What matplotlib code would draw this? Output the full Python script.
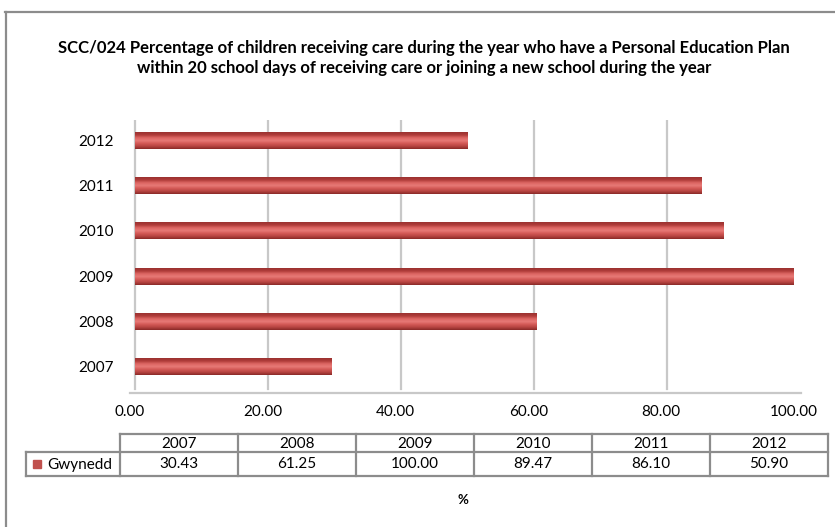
import matplotlib
matplotlib.use("Agg")
import matplotlib.pyplot as plt
import numpy as np
from matplotlib.colors import LinearSegmentedColormap
from matplotlib.lines import Line2D
from matplotlib.patches import Rectangle

# ---- data ----
years = ["2007", "2008", "2009", "2010", "2011", "2012"]
gwynedd = [30.43, 61.25, 100.00, 89.47, 86.10, 50.90]
series_name = "Gwynedd"
x_ticks = [0, 20, 40, 60, 80, 100]
title = ("SCC/024 Percentage of children receiving care during the year who have a Personal Education Plan\n"
         "within 20 school days of receiving care or joining a new school during the year")
axis_label = "%"

FONT = "Lato"
LABEL_SIZE = 11
W, H = 835, 527
fig = plt.figure(figsize=(W / 100, H / 100), dpi=100)
fig.patch.set_facecolor("white")


def fx(px):
    return px / W


def fy(py):
    return 1 - py / H


# outer chart frame (top and left edges)
fig.add_artist(Line2D([fx(5), fx(835)], [fy(12), fy(12)], color="#8c8c8c", lw=1.6))
fig.add_artist(Line2D([fx(6), fx(6)], [fy(12), fy(527)], color="#8c8c8c", lw=1.6))

# title
fig.text(fx(424), fy(58), title, ha="center", va="center", fontsize=12,
         fontweight="bold", family=FONT, linespacing=1.3)

# plot area
left_px, right_px = 130, 794
top_px, bot_px = 120, 393
ax = fig.add_axes([fx(left_px), fy(bot_px), fx(right_px - left_px), (bot_px - top_px) / H])
ax.set_xlim(0, 100)
ax.set_ylim(-0.58, 5.45)
for s in ax.spines.values():
    s.set_visible(False)
ax.set_xticks(x_ticks)
ax.set_xticklabels([f"{v:.2f}" for v in x_ticks], family=FONT, fontsize=LABEL_SIZE)
ax.set_yticks(range(len(years)))
ax.set_yticklabels(years, family=FONT, fontsize=LABEL_SIZE)
ax.tick_params(axis="y", length=0, pad=12)
ax.tick_params(axis="x", length=0, pad=9)

# gridlines / walls
for v in x_ticks:
    ax.plot([v + 0.8, v + 0.8], [-0.5, 5.45], color="#c8c8c8", lw=1.6, zorder=1)
ax.plot([0, 101], [-0.58, -0.58], color="#c8c8c8", lw=1.6, zorder=1, clip_on=False)

# cylinder shading for bars
shade = LinearSegmentedColormap.from_list(
    "cyl", ["#8a2a28", "#b84542", "#d45a57", "#e77a77", "#dc6562", "#b03c3a", "#9a3230"])
grad = np.linspace(0, 1, 64).reshape(-1, 1)
bar_h = 0.37
for i, v in enumerate(gwynedd):
    ax.imshow(grad, cmap=shade, aspect="auto", interpolation="bilinear",
              extent=(0.8, v, i - bar_h / 2, i + bar_h / 2), origin="lower", zorder=3)
ax.set_xlim(0, 100)
ax.set_ylim(-0.58, 5.45)

# data table
col_edges = [120, 238, 356, 474, 592, 710, 828]
row_top, row_mid, row_bot = 434, 452, 476
tbl_color = "#8c8c8c"
lw = 1.6
fig.add_artist(Line2D([fx(120), fx(828)], [fy(row_top), fy(row_top)], color=tbl_color, lw=lw))
fig.add_artist(Line2D([fx(26), fx(828)], [fy(row_mid), fy(row_mid)], color=tbl_color, lw=lw))
fig.add_artist(Line2D([fx(26), fx(828)], [fy(row_bot), fy(row_bot)], color=tbl_color, lw=lw))
fig.add_artist(Line2D([fx(26), fx(26)], [fy(row_mid), fy(row_bot)], color=tbl_color, lw=lw))
for x in col_edges:
    fig.add_artist(Line2D([fx(x), fx(x)], [fy(row_top), fy(row_bot)], color=tbl_color, lw=lw))
for j, (yr, v) in enumerate(zip(years, gwynedd)):
    cx = (col_edges[j] + col_edges[j + 1]) / 2
    fig.text(fx(cx), fy((row_top + row_mid) / 2 + 0.5), yr, ha="center", va="center",
             family=FONT, fontsize=LABEL_SIZE)
    fig.text(fx(cx), fy((row_mid + row_bot) / 2 + 0.5), f"{v:.2f}", ha="center", va="center",
             family=FONT, fontsize=LABEL_SIZE)

# legend key inside the table
fig.add_artist(Rectangle((fx(33), fy(468)), fx(8), 8 / H, color="#c0504d"))
fig.text(fx(47), fy((row_mid + row_bot) / 2 + 0.5), series_name, ha="left", va="center",
         family=FONT, fontsize=LABEL_SIZE)

# axis title
fig.text(fx(463), fy(500), axis_label, ha="center", va="center", family=FONT,
         fontsize=9.5, fontweight="bold")

fig.savefig("out.png", dpi=100, facecolor="white")
